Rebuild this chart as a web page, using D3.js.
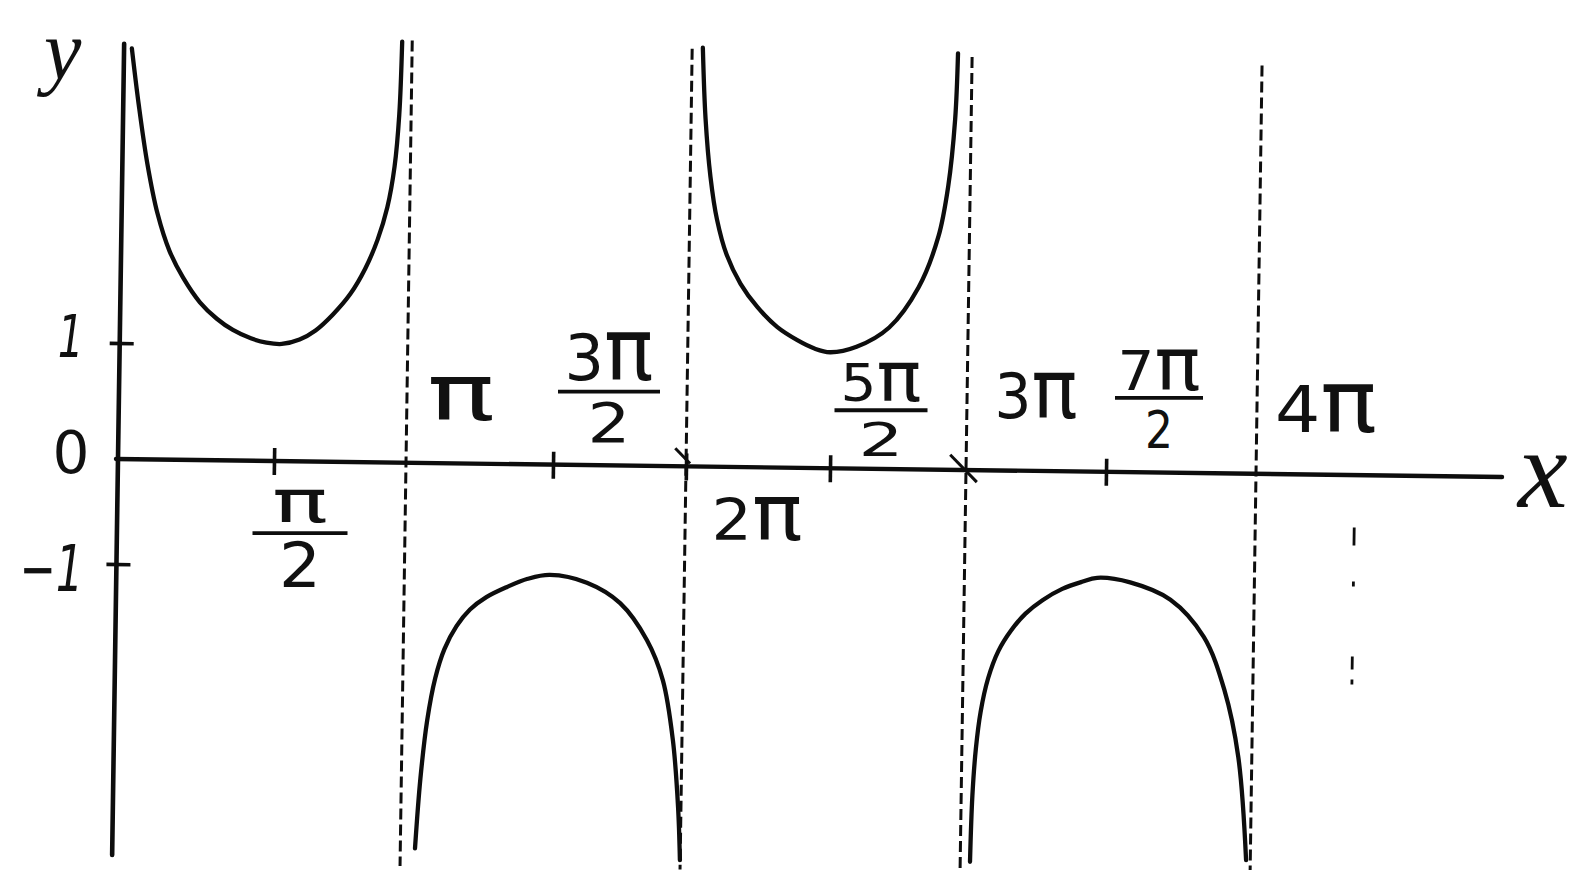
<!DOCTYPE html>
<html>
<head>
<meta charset="utf-8">
<script src="https://cdn.jsdelivr.net/npm/d3@7"></script>
<style>
  html, body { margin: 0; padding: 0; background: #fff; }
  svg { display: block; }
  .lbl { fill: #111; font-family: "DejaVu Sans", sans-serif; }
</style>
</head>
<body>
<svg id="chart" width="1579" height="870"></svg>
<script>
// y = csc x on 0 < x < 4π.  x values are multiples of π.
const branch1X = [0.025, 0.05, 0.08, 0.115, 0.155, 0.2, 0.255, 0.31, 0.362, 0.42, 0.47, 0.523,
                  0.59, 0.65, 0.715, 0.78, 0.835, 0.88, 0.915, 0.94, 0.955, 0.962];
const branch1Y = [3.54, 3.05, 2.55, 2.12, 1.80, 1.57, 1.36, 1.22, 1.125, 1.055, 1.02, 1.01,
                  1.05, 1.13, 1.27, 1.45, 1.67, 1.92, 2.2, 2.55, 3.0, 3.63];

const branch2X = [1.05, 1.065, 1.085, 1.11, 1.14, 1.18, 1.225, 1.28, 1.35, 1.42, 1.495,
                  1.634, 1.76, 1.863, 1.925, 1.966, 1.989, 1.999];
const branch2Y = [-3.67, -3.0, -2.45, -2.05, -1.77, -1.55, -1.39, -1.27, -1.17, -1.09, -1.05,
                  -1.12, -1.31, -1.66, -2.04, -2.61, -3.24, -3.75];

const branch3X = [2.037, 2.05, 2.07, 2.095, 2.13, 2.18, 2.24, 2.31, 2.38, 2.44, 2.494,
                  2.591, 2.71, 2.816, 2.886, 2.919, 2.941, 2.948];
const branch3Y = [3.61, 3.0, 2.5, 2.13, 1.83, 1.58, 1.38, 1.21, 1.10, 1.03, 1.0,
                  1.05, 1.22, 1.57, 2.01, 2.44, 3.02, 3.59];

const branch4X = [3.035, 3.04, 3.05, 3.065, 3.09, 3.125, 3.17, 3.22, 3.28, 3.35, 3.42, 3.474,
                  3.586, 3.721, 3.834, 3.905, 3.955, 3.986];
const branch4Y = [-3.73, -3.1, -2.65, -2.3, -1.98, -1.72, -1.52, -1.36, -1.23, -1.12, -1.05, -1.01,
                  -1.05, -1.21, -1.56, -2.06, -2.70, -3.68];

// vertical asymptotes x = kπ and how far up / down each is drawn
const asymptoteX = [1, 2, 3, 4];
const asymptoteTop = [3.64, 3.6, 3.56, 3.52];
const asymptoteBottom = [-3.84, -3.84, -3.84, -3.84];

// axis ticks and labels
const xTickMarks = [0.5, 1.5, 2, 2.5, 3.5];
const xLabelValues = [0.5, 1, 1.5, 2, 2.5, 3, 3.5, 4];
const xLabels = ["π/2", "π", "3π/2", "2π", "5π/2", "3π", "7π/2", "4π"];
const yTickMarks = [1, -1];
const yLabels = ["1", "0", "−1"];
const axisExtent = { xMax: 4.82, yMax: 3.58, yMin: -3.77 };

// ---------------------------------------------------------------
const svg = d3.select("#chart");
svg.append("rect").attr("width", 1579).attr("height", 870).attr("fill", "#fff");

// hand-ruled scale: the half-π steps are not all equal on the sheet
const xs = d3.scaleLinear()
  .domain([0, 0.5, 1, 1.5, 2, 2.5, 3, 3.5, 4])
  .range([0, 156, 288, 435, 568, 712, 848, 988, 1138]);
const ys = d3.scaleLinear().domain([-1, 0, 1]).range([105, 0, -116]);

// the axes were drawn slightly out of square
const ORIGIN = [118, 459];
const SHEAR_X = -0.0148, SHEAR_Y = 0.013;
const plot = svg.append("g")
  .attr("transform", `translate(${ORIGIN[0]},${ORIGIN[1]}) matrix(1,${SHEAR_Y},${SHEAR_X},1,0,0)`);

function toPx(xv, yv) {
  const X = xs(xv), Y = ys(yv);
  return [ORIGIN[0] + X + SHEAR_X * Y, ORIGIN[1] + SHEAR_Y * X + Y];
}

const INK = "#0d0d0d";

// asymptotes
plot.selectAll("line.asym").data(asymptoteX).join("line")
  .attr("class", "asym")
  .attr("x1", d => xs(d)).attr("x2", d => xs(d))
  .attr("y1", (d, i) => ys(asymptoteTop[i]))
  .attr("y2", (d, i) => ys(asymptoteBottom[i]))
  .attr("stroke", INK).attr("stroke-width", 3)
  .attr("stroke-dasharray", "11,5");

// axes
plot.append("line")
  .attr("x1", xs(0) - 2).attr("x2", xs(axisExtent.xMax))
  .attr("y1", ys(0)).attr("y2", ys(0))
  .attr("stroke", INK).attr("stroke-width", 4.4).attr("stroke-linecap", "round");
plot.append("line")
  .attr("x1", xs(0)).attr("x2", xs(0))
  .attr("y1", ys(axisExtent.yMax)).attr("y2", ys(axisExtent.yMin))
  .attr("stroke", INK).attr("stroke-width", 4.6).attr("stroke-linecap", "round");

// tick marks crossing the axes
const xAxis = plot.append("g")
  .attr("transform", `translate(0,${ys(0)})`)
  .call(d3.axisBottom(xs).tickValues(xTickMarks).tickSize(14).tickFormat(""));
xAxis.select(".domain").remove();
xAxis.selectAll(".tick line").attr("y1", -13).attr("stroke", INK).attr("stroke-width", 3.6);

const yAxis = plot.append("g")
  .attr("transform", `translate(${xs(0)},0)`)
  .call(d3.axisLeft(ys).tickValues(yTickMarks).tickSize(10).tickFormat(""));
yAxis.select(".domain").remove();
yAxis.selectAll(".tick line").attr("x1", 14).attr("stroke", INK).attr("stroke-width", 3.6);

// little strokes where the asymptotes meet the x-axis
[[2, -11, -18, 4, -3], [3, -16, -15, 11, 12]].forEach(([v, ax, ay, bx, by]) => {
  plot.append("line")
    .attr("x1", xs(v) + ax).attr("y1", ys(0) + ay)
    .attr("x2", xs(v) + bx).attr("y2", ys(0) + by)
    .attr("stroke", INK).attr("stroke-width", 3);
});

// the four branches of y = csc x
const line = d3.line()
  .x(d => xs(d[0])).y(d => ys(d[1]))
  .curve(d3.curveCatmullRom.alpha(0.5));
[[branch1X, branch1Y], [branch2X, branch2Y], [branch3X, branch3Y], [branch4X, branch4Y]]
  .forEach(([bx, by]) => {
    plot.append("path")
      .datum(d3.zip(bx, by))
      .attr("d", line)
      .attr("fill", "none")
      .attr("stroke", INK).attr("stroke-width", 4.3)
      .attr("stroke-linecap", "round").attr("stroke-linejoin", "round");
  });

// stray pencil marks to the right of 4π
{
  const p0 = toPx(4.33, -0.5), p1 = toPx(4.33, -2.0);
  svg.append("line")
    .attr("x1", p0[0]).attr("y1", p0[1]).attr("x2", p1[0]).attr("y2", p1[1])
    .attr("stroke", INK).attr("stroke-width", 2.8)
    .attr("stroke-dasharray", "18,36,5,70,13,10,5,200");
}

// ---------------------------------------------------------------
// text helpers
function textRun(x, y, parts, opts = {}) {
  const t = svg.append("text").attr("class", "lbl")
    .attr("x", x).attr("y", y)
    .attr("text-anchor", opts.anchor || "middle");
  if (opts.family) t.style("font-family", opts.family);
  if (opts.italic) t.attr("font-style", "italic");
  if (opts.width) t.attr("textLength", opts.width).attr("lengthAdjust", "spacingAndGlyphs");
  parts.forEach(p => {
    const s = t.append("tspan").attr("font-size", p.size).text(p.t);
    if (p.italic) s.attr("font-style", "italic");
  });
  return t;
}

// split "3π" into digit and π so both stand the same height
function piParts(str, digitSize) {
  const out = [];
  for (const ch of str) {
    out.push({ t: ch, size: ch === "π" ? digitSize * 1.32 : digitSize });
  }
  return out;
}

// placement of each x label relative to its point on the axis
const xLabelLayout = {
  "π/2":  { dx: 26, bar: 72,  w: 95,  numW: 56, numH: 32, denW: 42, denH: 45, up: 11, down: 54 },
  "π":    { dx: 55, base: -43, w: 68, h: 42 },
  "3π/2": { dx: 56, bar: -73, w: 102, numW: 89, numH: 47, denW: 43, denH: 40, up: 12, down: 50 },
  "2π":   { dx: 71, base: 74,  w: 91, h: 42 },
  "5π/2": { dx: 51, bar: -58, w: 93,  numW: 81, numH: 38, denW: 45, denH: 34, up: 9, down: 46 },
  "3π":   { dx: 70, base: -52, w: 83, h: 45 },
  "7π/2": { dx: 53, bar: -74, w: 88,  numW: 83, numH: 40, denW: 28, denH: 37, up: 8, down: 50 },
  "4π":   { dx: 70, base: -42, w: 102, h: 47 }
};

xLabels.forEach((lab, i) => {
  const [ax, ay] = toPx(xLabelValues[i], 0);
  const L = xLabelLayout[lab];
  if (lab.includes("/")) {
    const [num, den] = lab.split("/");
    const cx = ax + L.dx, by = ay + L.bar;
    svg.append("line")
      .attr("x1", cx - L.w / 2).attr("x2", cx + L.w / 2)
      .attr("y1", by).attr("y2", by)
      .attr("stroke", INK).attr("stroke-width", 3.8);
    textRun(cx, by - L.up, piParts(num, L.numH / 0.73), { width: L.numW });
    textRun(cx, by + L.down, [{ t: den, size: L.denH / 0.73 }], { width: L.denW });
  } else {
    textRun(ax + L.dx, ay + L.base, piParts(lab, L.h / 0.73), { width: L.w });
  }
});

// y labels
{
  const [tx1, ty1] = toPx(0, 1);
  textRun(tx1 - 36, ty1 + 14, [{ t: yLabels[0], size: 58 }], { anchor: "end", italic: true, width: 26 });
  textRun(ORIGIN[0] - 47, ORIGIN[1] + 14, [{ t: yLabels[1], size: 59 }], { width: 37 });
  const [tx2, ty2] = toPx(0, -1);
  textRun(tx2 - 33, ty2 + 27, [{ t: yLabels[2], size: 64 }], { anchor: "end", italic: true, width: 64 });
}

// axis names
textRun(44, 79, [{ t: "y", size: 84 }], { anchor: "start", italic: true, family: "Liberation Serif" });
{
  const [ex, ey] = toPx(axisExtent.xMax, 0);
  textRun(ex + 16, ey + 30, [{ t: "x", size: 112 }], { anchor: "start", italic: true, family: "Liberation Serif" });
}
</script>
</body>
</html>
